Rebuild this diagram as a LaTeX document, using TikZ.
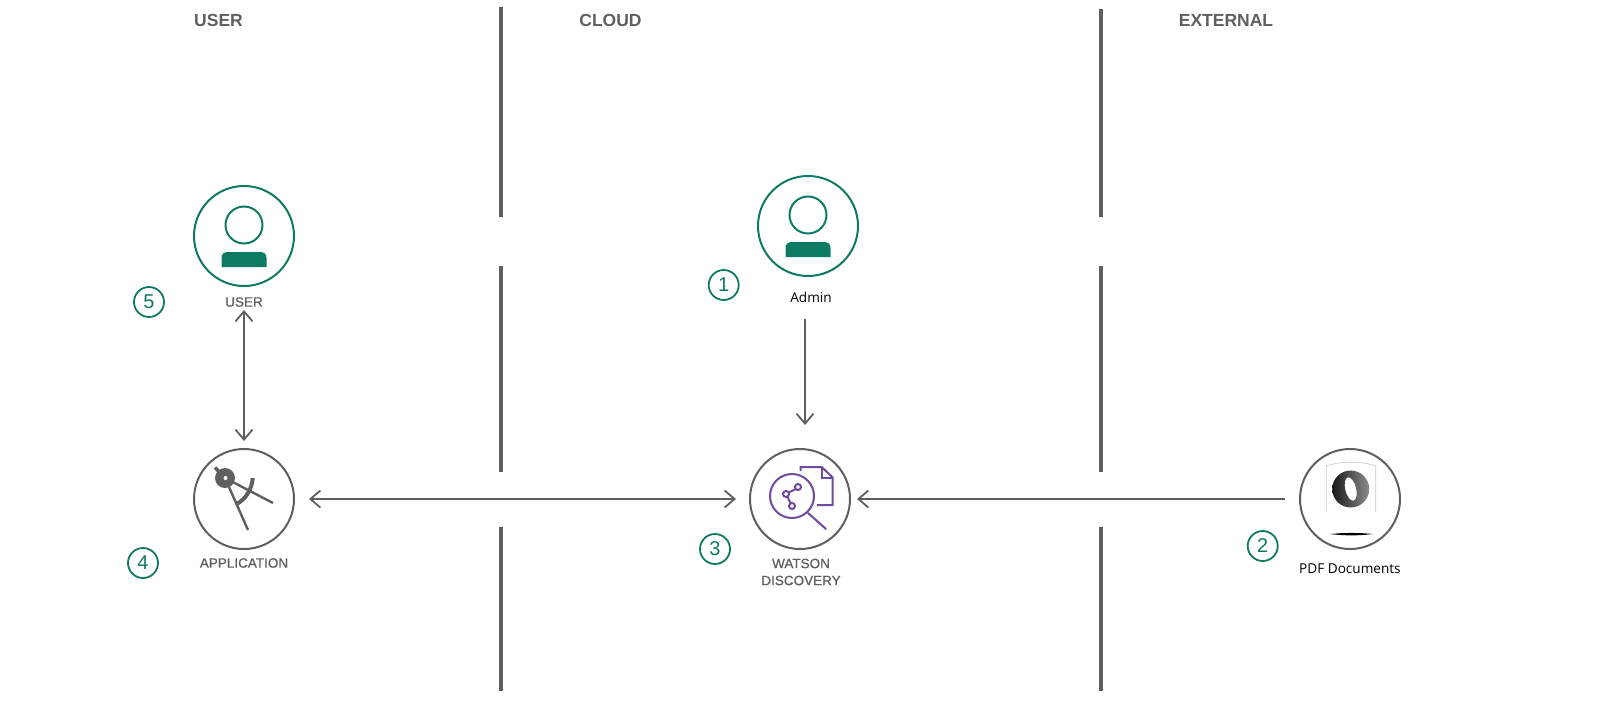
\documentclass[tikz,border=0pt]{standalone}
\usepackage{fontspec}
\setmainfont{Liberation Sans}
\newfontfamily\labelfont{Open Sans}
\newfontfamily\capfont[FakeBold=0.9]{Liberation Sans}
\usetikzlibrary{arrows.meta,calc}
\definecolor{grn}{HTML}{0F7A62}
\definecolor{gry}{HTML}{5F5F5F}
\definecolor{pur}{HTML}{6F4A9E}
\tikzset{
  x=1pt,y=-1pt,
  ring/.style={circle,draw,line width=2pt,minimum size=100pt,inner sep=0pt,outer sep=0pt},
  greenring/.style={ring,draw=grn},
  grayring/.style={ring,draw=gry},
  badge/.style={circle,draw=grn,line width=1.8pt,minimum size=30pt,inner sep=0pt,text=grn,font=\fontsize{20}{20}\selectfont},
  header/.style={text=gry,font=\bfseries\fontsize{17.5}{17.5}\selectfont,inner sep=0pt},
  caption/.style={text=gry,font=\capfont\fontsize{13.5}{17}\selectfont,inner sep=0pt,align=center},
  plain/.style={text=black,font=\labelfont\fontsize{13.6}{15}\selectfont,inner sep=0pt},
  divider/.style={gry,line width=3.6pt},
  link/.style={gry,line width=2pt,-{Straight Barb[length=10pt,width=17pt,line width=1.8pt]}},
  biglink/.style={gry,line width=2pt,{Straight Barb[length=10pt,width=17pt,line width=1.8pt]}-{Straight Barb[length=10pt,width=17pt,line width=1.8pt]}},
  thinpur/.style={pur,line width=2pt},
}
\begin{document}
\begin{tikzpicture}
\useasboundingbox (0,0) rectangle (1600,701);
% dividers
\draw[divider] (501,7) -- (501,217);
\draw[divider] (501,266) -- (501,472);
\draw[divider] (501,527) -- (501,691);
\draw[divider] (1101,9) -- (1101,217);
\draw[divider] (1101,266) -- (1101,472);
\draw[divider] (1101,527) -- (1101,691);
% headers
\node[header] (huser) at (218.5,20.5) {USER};
\node[header] (hcloud) at (610.5,20.5) {CLOUD};
\node[header] (hext) at (1226,20.5) {EXTERNAL};
% main circles
\node[greenring] (user) at (244,236) {};
\node[greenring] (admin) at (808,226) {};
\node[grayring] (app) at (244,499) {};
\node[grayring] (disc) at (800,499) {};
\node[grayring] (docs) at (1350,499) {};
% person icons
\foreach \c in {user,admin}{
  \draw[grn,line width=2pt] ($(\c)+(0,-11)$) circle (18.5);
  \fill[grn] ($(\c)+(-22.5,31)$) -- ($(\c)+(-22.5,22)$) .. controls ($(\c)+(-22.5,18)$) and ($(\c)+(-20,16)$) .. ($(\c)+(-16,16)$) -- ($(\c)+(16,16)$) .. controls ($(\c)+(20,16)$) and ($(\c)+(22.5,18)$) .. ($(\c)+(22.5,22)$) -- ($(\c)+(22.5,31)$) -- cycle;
}
% compass icon
\draw[gry,line width=2.4pt] (225,478) -- (248,530);
\draw[gry,line width=2.4pt] (225,478) -- (273,503);
\draw[gry,line width=4pt] (252.7,478) .. controls (252,489) and (246,499) .. (236.7,504);
\draw[gry,line width=3.4pt] (225,478) -- (215,467.5);
\fill[gry] (225,478) circle (10);
\fill[white] (225.5,478) circle (2);
% discovery icon
\draw[thinpur] (792,496) circle (22);
\draw[thinpur,line cap=round] (808,513) -- (826,529);
\draw[thinpur] (798,487) circle (3) (786,494) circle (3) (792,506) circle (3);
\draw[thinpur] (796,489) -- (788.5,492.5) (787.5,497) -- (790.5,503);
\draw[thinpur] (800.7,471) -- (800.7,467) -- (821.7,467) -- (832.7,477.5) -- (832.7,505) -- (817,505);
\draw[thinpur] (821.7,467) -- (821.7,477.5) -- (832.7,477.5);
% json icon
\draw[black!22,line width=.6pt] (1326.3,512) -- (1326.3,466) .. controls (1340,461) and (1362,461) .. (1375.7,466) -- (1375.7,512);
\shade[even odd rule,left color=black!90,right color=black!45]
  (1350.7,489) circle (18.5)
  [rotate around={14:(1350.7,489)}] (1350.7,489) ellipse (5.5 and 12);
\fill[black] (1330,534) .. controls (1345,532.6) and (1358,532.6) .. (1373,534) .. controls (1358,535.8) and (1345,535.8) .. (1330,534) -- cycle;
% captions
\node[caption] (ulabel) at (244,302) {USER};
\node[plain] (alabel) at (811,297.5) {Admin};
\node[caption] (applabel) at (244,563) {APPLICATION};
\node[caption] (dlabel) at (801,572) {WATSON\\DISCOVERY};
\node[plain,anchor=west] (plabel) at (1299,569) {PDF Documents};
% badges
\node[badge] (b1) at (723.7,285) {1};
\node[badge] (b2) at (1262.7,546) {2};
\node[badge] (b3) at (715,549) {3};
\node[badge] (b4) at (143,563) {4};
\node[badge] (b5) at (149,302) {5};
% connectors
\draw[biglink] ([yshift=-3pt]ulabel.south) -- ([yshift=8pt]app.north);
\draw[link] ([xshift=-6pt,yshift=-16pt]alabel.south) -- ([xshift=5pt,yshift=24pt]disc.north);
\draw[biglink] ([xshift=15pt]app.east) -- ([xshift=-14pt]disc.west);
\draw[link] ([xshift=-15pt]docs.west) -- ([xshift=7pt]disc.east);
\end{tikzpicture}
\end{document}
